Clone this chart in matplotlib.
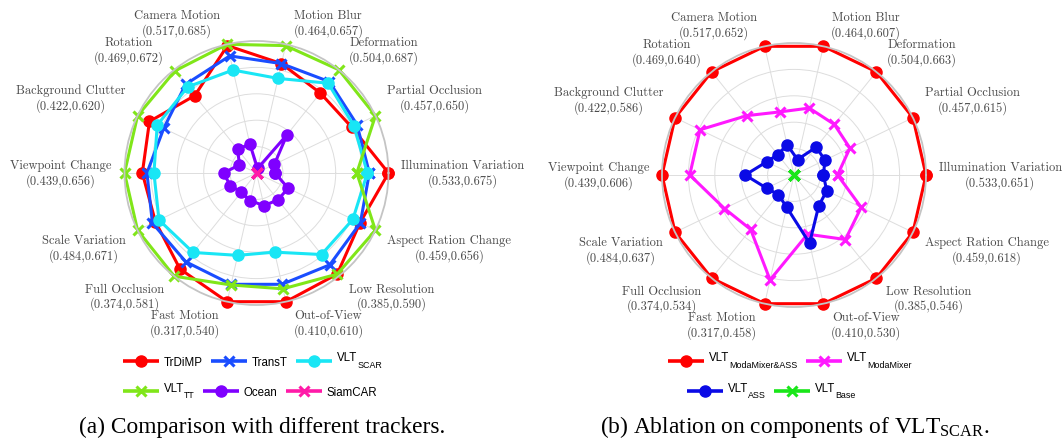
import numpy as np
import matplotlib
matplotlib.use('Agg')
import matplotlib.pyplot as plt
from matplotlib.lines import Line2D
import matplotlib.transforms as mtransforms

plt.rcParams['mathtext.fontset'] = 'custom'
plt.rcParams['mathtext.rm'] = 'Liberation Serif'

# ---------------- data ----------------
attributes = ['Illumination Variation', 'Partial Occlusion', 'Deformation', 'Motion Blur',
              'Camera Motion', 'Rotation', 'Background Clutter', 'Viewpoint Change',
              'Scale Variation', 'Full Occlusion', 'Fast Motion', 'Out-of-View',
              'Low Resolution', 'Aspect Ration Change']
range_min = [0.533, 0.457, 0.504, 0.464, 0.517, 0.469, 0.422, 0.439,
             0.484, 0.374, 0.317, 0.410, 0.385, 0.459]
range_max_a = [0.675, 0.650, 0.687, 0.657, 0.685, 0.672, 0.620, 0.656,
               0.671, 0.581, 0.540, 0.610, 0.590, 0.656]
range_max_b = [0.651, 0.615, 0.663, 0.607, 0.652, 0.640, 0.586, 0.606,
               0.637, 0.534, 0.458, 0.530, 0.546, 0.618]

# normalised scores (0 = range min, 1 = range max), attribute order as above
trdimp = [1.00, 0.80, 0.775, 0.85, 0.99, 0.75, 0.90, 0.865, 0.85, 0.93, 1.00, 1.00, 0.98, 0.87]
transt = [0.855, 0.845, 0.885, 0.85, 0.91, 0.86, 0.78, 0.83, 0.875, 0.86, 0.865, 0.865, 0.89, 0.873]
vlt_scar = [0.84, 0.82, 0.87, 0.735, 0.80, 0.835, 0.835, 0.777, 0.82, 0.77, 0.64, 0.615, 0.79, 0.81]
vlt_tt = [0.76, 1.00, 1.00, 0.99, 1.00, 0.99, 1.00, 1.00, 1.00, 1.00, 0.87, 0.90, 0.98, 1.00]
ocean = [0.14, 0.15, 0.37, 0.035, 0.225, 0.23, 0.143, 0.25, 0.22, 0.185, 0.214, 0.254, 0.26, 0.266]
siamcar = [0.0] * 14

vlt_mm_ass = [1.0] * 14
vlt_mm = [0.33, 0.47, 0.49, 0.52, 0.49, 0.575, 0.79, 0.79, 0.585, 0.527, 0.815, 0.46, 0.625, 0.565]
vlt_ass = [0.223, 0.26, 0.27, 0.12, 0.235, 0.197, 0.23, 0.37, 0.23, 0.19, 0.25, 0.53, 0.30, 0.275]
vlt_base = [0.0] * 14

# legend names: (main text, subscript)
names_a = [('TrDiMP', ''), ('TransT', ''), ('VLT', 'SCAR'),
           ('VLT', 'TT'), ('Ocean', ''), ('SiamCAR', '')]
names_b = [('VLT', 'ModaMixer&ASS'), ('VLT', 'ModaMixer'), ('VLT', 'ASS'), ('VLT', 'Base')]

# ---------------- figure ----------------
W, H = 1063, 439
fig = plt.figure(figsize=(W / 100, H / 100), dpi=100)
renderer = fig.canvas.get_renderer()

R_PX = 132
def polar_axes(cx, cy):
    return fig.add_axes([(cx - R_PX) / W, (H - cy - R_PX) / H, 2 * R_PX / W, 2 * R_PX / H],
                        projection='polar')

n = len(attributes)
theta = np.arange(n) * 2 * np.pi / n


def radar(ax, series, styles, rmax):
    ax.set_ylim(0, 1.0)
    ax.set_xticks(theta)
    ax.set_xticklabels([])
    ax.set_yticks([0.2, 0.4, 0.6, 0.8])
    ax.set_yticklabels([])
    ax.grid(True, color='#dddddd', lw=0.7)
    ax.spines['polar'].set_color('#c4c4c4')
    ax.spines['polar'].set_linewidth(1.3)
    ax.set_facecolor('none')
    for vals, st in zip(series, styles):
        t = np.append(theta, theta[0])
        v = np.append(vals, vals[0])
        ax.plot(t, v, clip_on=False, **st)
    for k in range(n):
        c, s = np.cos(theta[k]), np.sin(theta[k])
        ha = 'left' if c > 0.01 else ('right' if c < -0.01 else 'center')
        sx = 1 if c > 0.01 else (-1 if c < -0.01 else 0)
        sy = 1 if s > 0.01 else (-1 if s < -0.01 else 0)
        tr = mtransforms.offset_copy(ax.transData, fig=fig, x=6 * sx, y=15 * sy, units='dots')
        ax.text(theta[k], 1.05, f'{attributes[k]}\n({range_min[k]:.3f},{rmax[k]:.3f})',
                transform=tr, ha=ha, va='center', multialignment='center',
                family='cmr10', fontsize=9, color='#4a4a4a', linespacing=1.2)


def circ(color):
    return dict(color=color, lw=2.2, marker='o', ms=8, mec=color, mfc=color)


def cross(color):
    return dict(color=color, lw=2.2, marker='x', ms=7, mew=2.2, mec=color)


styles_a = [circ('#ff0000'), cross('#1a4dff'), circ('#19e6f5'),
            cross('#80e619'), circ('#7f00ff'), cross('#ff1aa8')]
styles_b = [circ('#ff0000'), cross('#ff19ff'), circ('#0a0ae6'), cross('#19e619')]

ax_a = polar_axes(256.5, 174)
radar(ax_a, [trdimp, transt, vlt_scar, vlt_tt, ocean, siamcar], styles_a, range_max_a)
ax_b = polar_axes(794, 176)
radar(ax_b, [vlt_mm_ass, vlt_mm, vlt_ass, vlt_base], styles_b, range_max_b)


def fx(x):
    return x / W


def fy(y):
    return 1 - y / H


def legend_row(names, styles, left_px, y_px):
    x = left_px
    for (main, sub), st in zip(names, styles):
        line_style = {k: v for k, v in st.items() if k in ('color',)}
        fig.add_artist(Line2D([fx(x), fx(x + 36)], [fy(y_px), fy(y_px)], lw=2.6,
                              transform=fig.transFigure, solid_capstyle='butt', **line_style))
        mk = {k: v for k, v in st.items() if k not in ('lw', 'color')}
        fig.add_artist(Line2D([fx(x + 18)], [fy(y_px)], transform=fig.transFigure,
                              lw=0, **mk))
        x += 41
        base = y_px - 0.5 if sub else y_px + 3.9
        t = fig.text(fx(x), fy(base), main, ha='left', va='baseline',
                     family='Liberation Sans', fontsize=8.3)
        x = t.get_window_extent(renderer).x1
        if sub:
            ts = fig.text(fx(x), fy(base + 7.0), sub, ha='left', va='baseline',
                          family='Liberation Sans', fontsize=6.4)
            x = ts.get_window_extent(renderer).x1
        x += 8


legend_row(names_a[:3], styles_a[:3], 123, 362)
legend_row(names_a[3:], styles_a[3:], 123, 392)
legend_row(names_b[:2], styles_b[:2], 668, 362)
legend_row(names_b[2:], styles_b[2:], 687, 392)

fig.text(262 / W, 1 - 427 / H, '(a) Comparison with different trackers.',
         ha='center', va='center', family='Liberation Serif', fontsize=16.8)
fig.text(795 / W, 1 - 427 / H, r'(b) Ablation on components of VLT$_{\mathrm{SCAR}}$.',
         ha='center', va='center', family='Liberation Serif', fontsize=16.8)

fig.savefig('out.png', dpi=100)
